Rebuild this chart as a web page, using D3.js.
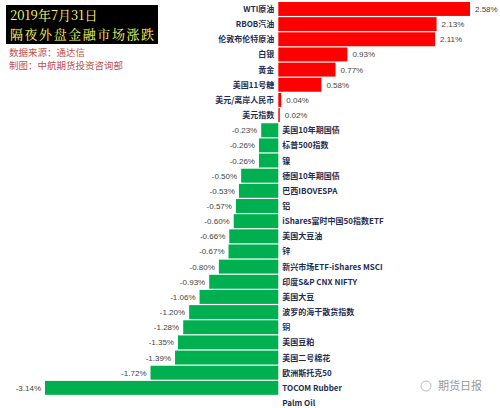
<!DOCTYPE html>
<html><head><meta charset="utf-8">
<script src="https://cdn.jsdelivr.net/npm/d3@7"></script>
<style>body{margin:0;background:#fff;}svg{display:block;}</style>
</head><body>
<svg id="c" width="500" height="408"></svg>
<script>
const categories=["WTI原油","RBOB汽油","伦敦布伦特原油","白银","黄金","美国11号糖","美元/离岸人民币","美元指数","美国10年期国债","标普500指数","镍","德国10年期国债","巴西IBOVESPA","铝","iShares富时中国50指数ETF","美国大豆油","锌","新兴市场ETF-iShares MSCI","印度S&P CNX NIFTY","美国大豆","波罗的海干散货指数","铜","美国豆粕","美国二号棉花","欧洲斯托克50","TOCOM Rubber","Palm Oil"];
const values=[2.58,2.13,2.11,0.93,0.77,0.58,0.04,0.02,-0.23,-0.26,-0.26,-0.50,-0.53,-0.57,-0.60,-0.66,-0.67,-0.80,-0.93,-1.06,-1.20,-1.28,-1.35,-1.39,-1.72,-3.14,null];
const svg=d3.select("#c");
const x=d3.scaleLinear().domain([-3.14,2.58]).range([45,470]);
const y=d3.scaleBand().domain(categories).range([2,410]).paddingInner(0.08).paddingOuter(0);
const font="'Noto Sans CJK SC','Noto Sans',sans-serif";
const data=categories.map((c,i)=>({c,v:values[i]}));
svg.selectAll("rect.b").data(data.filter(d=>d.v!==null)).join("rect")
 .attr("x",d=>x(Math.min(0,d.v))).attr("width",d=>Math.max(1,Math.abs(x(d.v)-x(0))))
 .attr("y",d=>y(d.c)).attr("height",y.bandwidth())
 .attr("fill",d=>d.v>=0?"#ff0000":"#00b050");
svg.selectAll("text.v").data(data.filter(d=>d.v!==null)).join("text")
 .attr("x",d=>d.v>=0?x(d.v)+5:x(d.v)-4).attr("y",d=>y(d.c)+y.bandwidth()/2+3)
 .attr("text-anchor",d=>d.v>=0?"start":"end").attr("font-size",8).attr("fill","#444")
 .attr("font-family","Arial,'Liberation Sans',sans-serif")
 .text(d=>d.v.toFixed(2)+"%");
svg.selectAll("text.c").data(data).join("text")
 .attr("x",d=>d.v!==null&&d.v>=0?x(0)-4:x(0)+4).attr("y",d=>y(d.c)+y.bandwidth()/2+3)
 .attr("text-anchor",d=>d.v!==null&&d.v>=0?"end":"start").attr("font-size",8).attr("font-weight","bold")
 .attr("fill","#1f2d50").attr("font-family",font).text(d=>d.c);
svg.append("rect").attr("x",6).attr("y",5).attr("width",152).attr("height",39).attr("fill","#000");
const tf="'Noto Serif CJK SC','Noto Sans CJK SC',serif";
svg.append("text").attr("x",10).attr("y",20).attr("font-size",13).attr("fill","#ffff66").attr("font-family",tf).text("2019年7月31日");
svg.append("text").attr("x",10).attr("y",39).attr("font-size",13).attr("textLength",144).attr("fill","#ffff66").attr("font-family",tf).text("隔夜外盘金融市场涨跌");
svg.append("text").attr("x",9).attr("y",56).attr("font-size",9.5).attr("fill","#c0504d").attr("font-family",font).text("数据来源：通达信");
svg.append("text").attr("x",9).attr("y",69).attr("font-size",9.5).attr("fill","#c0504d").attr("font-family",font).text("制图：中航期货投资咨询部");
svg.append("text").attr("x",438).attr("y",390).attr("font-size",11).attr("fill","#999").attr("font-family",font).text("期货日报");
svg.append("circle").attr("cx",426).attr("cy",386).attr("r",5).attr("fill","none").attr("stroke","#bbb");
</script>
</body></html>
